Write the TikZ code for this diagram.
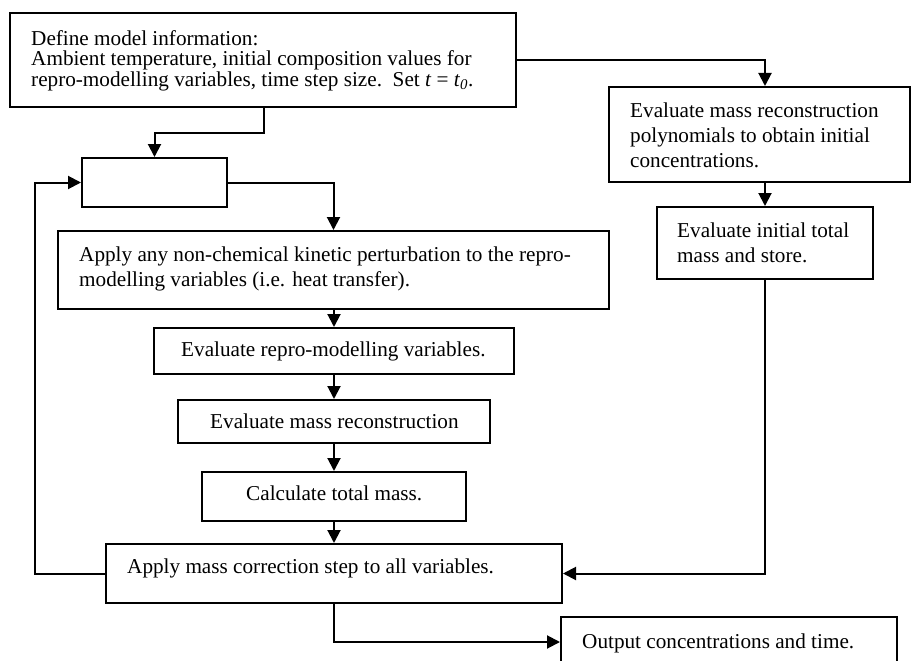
\documentclass[tikz,border=0pt]{standalone}
\usepackage{fontspec}
\setmainfont{Liberation Serif}
\usetikzlibrary{arrows.meta}
\begin{document}
\begin{tikzpicture}[x=1pt,y=-1pt,
  box/.style={draw=black,line width=2pt,rectangle,inner sep=0pt},
  txt/.style={anchor=west,align=left,inner sep=0pt,font=\fontsize{21.2}{25}\selectfont},
  one/.style={txt,text height=15pt,text depth=5pt},
  arr/.style={line width=2pt,-{Triangle[length=13pt,width=13pt]}}]
\useasboundingbox (0,0) rectangle (911,661);
% boxes (centre from pixel extents)
\node[box,minimum width=506pt,minimum height=94pt] (top) at (263,60) {};
\node[box,minimum width=301pt,minimum height=95pt] (rb1) at (759.5,134.5) {};
\node[box,minimum width=216pt,minimum height=72pt] (rb2) at (765,243) {};
\node[box,minimum width=145pt,minimum height=49pt] (sm) at (154.5,182.5) {};
\node[box,minimum width=551pt,minimum height=78pt] (ap) at (333.5,270) {};
\node[box,minimum width=360pt,minimum height=46pt] (er) at (334,351) {};
\node[box,minimum width=312pt,minimum height=43pt] (mr) at (334,421.5) {};
\node[box,minimum width=264pt,minimum height=49pt] (ct) at (334,496.5) {};
\node[box,minimum width=456pt,minimum height=59pt] (mc) at (334,573.5) {};
\node[box,minimum width=336pt,minimum height=50pt] (out) at (729,642) {};
% texts
\node[txt,font=\fontsize{21.2}{20.5}\selectfont] (ttop) at (31,60.5) {Define model information:\\Ambient temperature, initial composition values for\\repro-modelling variables, time step size.\ \ Set \textit{t} = \textit{t}\textsubscript{\textit{0}}.};
\node[txt] (trb1) at (630,135) {Evaluate mass reconstruction\\polynomials to obtain initial\\concentrations.};
\node[txt] (trb2) at (677,242.5) {Evaluate initial total\\mass and store.};
\node[txt] (tap) at (79,268.5) {Apply any non-chemical kinetic perturbation to the repro-\\modelling variables (i.e. heat transfer).};
\node[one] (ter) at (181,351.7) {Evaluate repro-modelling variables.};
\node[one] (tmr) at (210,423.3) {Evaluate mass reconstruction};
\node[one] (tct) at (246,495.7) {Calculate total mass.};
\node[one] (tmc) at (127,568.5) {Apply mass correction step to all variables.};
\node[one] (tout) at (582,643) {Output concentrations and time.};
% bend points
\coordinate (b1) at (264,133);
\coordinate (lp) at (35,400);
% connectors
\draw[arr] (top.south -| b1) -- (b1) -| (sm.north);
\draw[arr] (top.east) -| (rb2.north |- rb1.north);
\draw[arr] (rb1.south -| rb2.north) -- (rb2.north);
\draw[arr] (rb2.south) |- (mc.east);
\draw[arr] (sm.east) -| (ap.north);
\draw[arr] (ap.south -| er.north) -- (er.north);
\draw[arr] (er.south) -- (mr.north);
\draw[arr] (mr.south) -- (ct.north);
\draw[arr] (ct.south) -- (mc.north);
\draw[arr] (mc.west) -| (lp) |- (sm.west);
\draw[arr] (mc.south) |- (out.west);
\end{tikzpicture}
\end{document}
